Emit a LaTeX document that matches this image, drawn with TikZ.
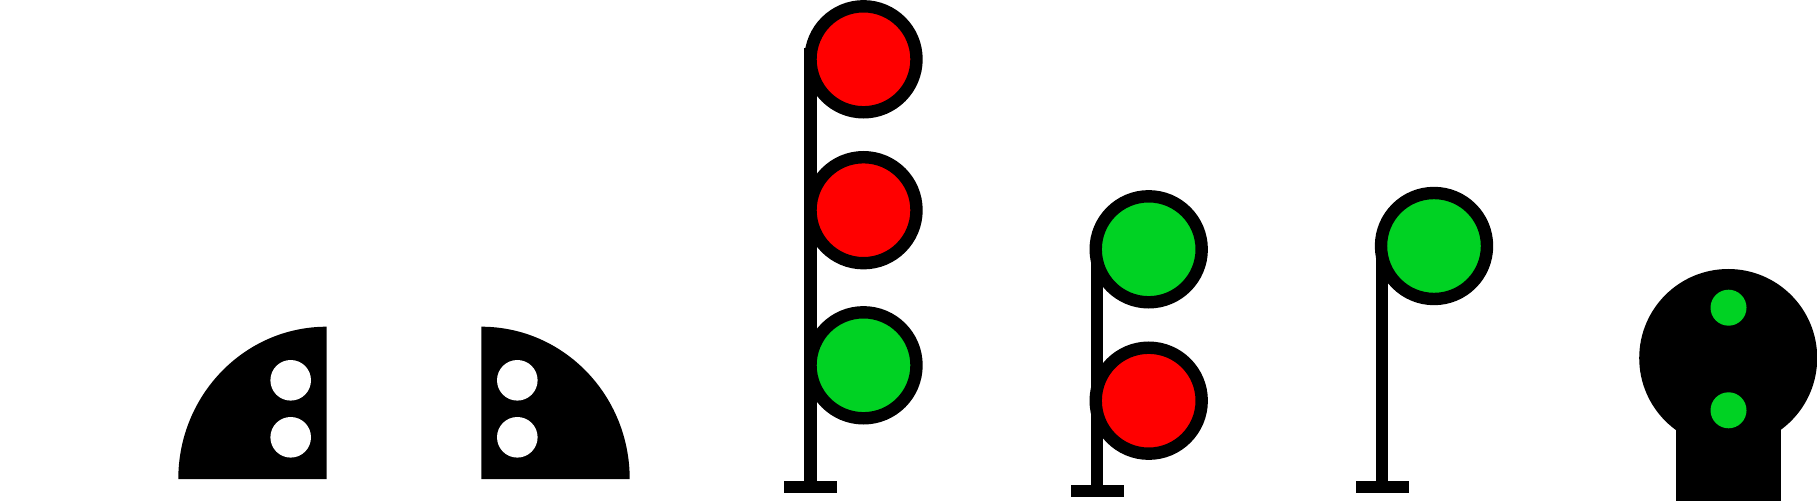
\documentclass[tikz,border=0pt]{standalone}
\definecolor{siggreen}{RGB}{0,210,35}
\definecolor{sigred}{RGB}{255,0,0}
\tikzset{
  lampbig/.style={circle,draw=black,line width=12.4pt,minimum size=106pt,inner sep=0pt,outer sep=0pt},
  lampsmall/.style={circle,fill=siggreen,minimum size=36pt,inner sep=0pt,outer sep=0pt},
  hole/.style={circle,fill=white,minimum size=40.6pt,inner sep=0pt,outer sep=0pt},
  headdisc/.style={circle,fill=black,minimum size=178pt,inner sep=0pt,outer sep=0pt},
  bodybox/.style={rectangle,fill=black,minimum width=104.4pt,minimum height=71pt,inner sep=0pt,outer sep=0pt},
  post/.style={draw=black,line width=12.4pt},
  dome/.style={fill=black,draw=none}
}
\begin{document}
\begin{tikzpicture}[x=1pt,y=1pt]
\useasboundingbox (0,0) rectangle (1817,501);
% left dwarf
\fill[dome] (326.7,22) -- (178.3,22) arc[start angle=180,end angle=90,x radius=148.4,y radius=152.3] -- cycle;
\node[hole] (la) at (290.7,120.7) {};
\node[hole] (lb) at (290.7,63.7) {};
% right dwarf
\fill[dome] (481.3,22) -- (629.7,22) arc[start angle=0,end angle=90,x radius=148.4,y radius=152.3] -- cycle;
\node[hole] (ra) at (517.3,120.7) {};
\node[hole] (rb) at (517.3,63.7) {};
% three-lamp mast
\coordinate (atop) at (810.5,453);
\coordinate (afoot) at (810.5,13.85);
\coordinate (abl) at (784,13.85);
\coordinate (abr) at (836.7,13.85);
\draw[post] (atop) -- (afoot);
\draw[post] (abl) -- (abr);
\node[lampbig,fill=sigred] (a1) at (863.5,441.7) {};
\node[lampbig,fill=sigred] (a2) at (863.5,290.8) {};
\node[lampbig,fill=siggreen] (a3) at (863.5,135.7) {};
% two-lamp mast
\coordinate (btop) at (1097.2,241);
\coordinate (bfoot) at (1097.2,9.85);
\coordinate (bbl) at (1071,9.85);
\coordinate (bbr) at (1123.7,9.85);
\draw[post] (btop) -- (bfoot);
\draw[post] (bbl) -- (bbr);
\node[lampbig,fill=siggreen] (b1) at (1148.7,251.7) {};
\node[lampbig,fill=sigred] (b2) at (1148.7,100.3) {};
% one-lamp mast
\coordinate (ctop) at (1382.2,248);
\coordinate (cfoot) at (1382.2,13.85);
\coordinate (cbl) at (1356,13.85);
\coordinate (cbr) at (1409,13.85);
\draw[post] (ctop) -- (cfoot);
\draw[post] (cbl) -- (cbr);
\node[lampbig,fill=siggreen] (c1) at (1434,255) {};
% block signal
\node[bodybox] (body) at (1728.5,35.5) {};
\node[headdisc] (head) at (1728.2,143) {};
\node[lampsmall] (h1) at (1728.5,193.3) {};
\node[lampsmall] (h2) at (1728.5,90.7) {};
\end{tikzpicture}
\end{document}
